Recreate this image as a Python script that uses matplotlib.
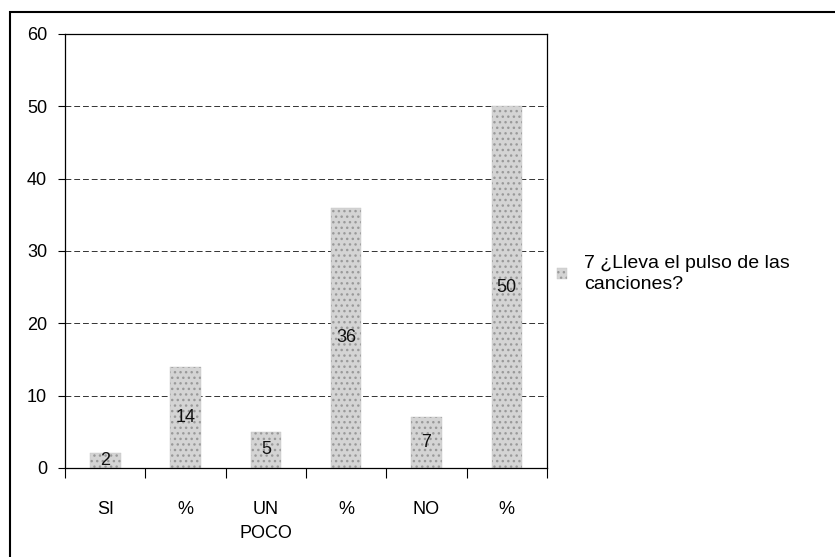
import matplotlib.pyplot as plt
import numpy as np
from matplotlib.patches import Rectangle

plt.rcParams['font.family'] = ['Liberation Sans', 'DejaVu Sans']

categories = ['SI', '%', 'UN\nPOCO', '%', 'NO', '%']
values = [2, 14, 5, 36, 7, 50]
legend_label = '7 ¿Lleva el pulso de las\ncanciones?'

fig = plt.figure(figsize=(8.35, 5.57), dpi=100)
ax = fig.add_axes([0.078, 0.160, 0.577, 0.779])

x = np.arange(len(categories))
bars = ax.bar(x, values, width=0.38, color='#d4d4d4', edgecolor='#c4c4c4',
              linewidth=0.3, hatch='...', label=legend_label, zorder=2)
for b in bars:
    b._hatch_color = (0.6, 0.6, 0.6, 1.0)

for xi, v in zip(x, values):
    ax.text(xi, v / 2, str(v), ha='center', va='center', fontsize=13, color='#111111', zorder=3)

ax.set_xlim(-0.5, len(categories) - 0.5)
ax.set_ylim(0, 60)
ax.set_yticks(np.arange(0, 61, 10))
ax.tick_params(axis='y', labelsize=13, length=5, width=0.8, pad=8)
ax.set_xticks(x)
ax.set_xticklabels(categories, fontsize=13, linespacing=1.5)
ax.tick_params(axis='x', length=0, pad=24)
ax.set_xticks(np.arange(-0.5, len(categories), 1), minor=True)
ax.tick_params(axis='x', which='minor', length=7, width=0.8, direction='out')

ax.yaxis.grid(True, linestyle=(0, (6, 3)), color='#333333', linewidth=0.7, zorder=0)
ax.set_axisbelow(True)
for s in ['left', 'right', 'bottom', 'top']:
    ax.spines[s].set_linewidth(0.9)

leg = fig.legend(loc='upper left', bbox_to_anchor=(0.658, 0.557), frameon=False,
                 fontsize=14, handlelength=0.5, handleheight=0.5, handletextpad=0.9,
                 borderaxespad=0, labelspacing=0.2)
for t in leg.get_texts():
    t.set_linespacing(1.35)

fig.add_artist(Rectangle((0.012, -0.01), 1.0, 0.988, transform=fig.transFigure,
                         fill=False, edgecolor='black', linewidth=1.5))

plt.savefig('out.png', dpi=100)
